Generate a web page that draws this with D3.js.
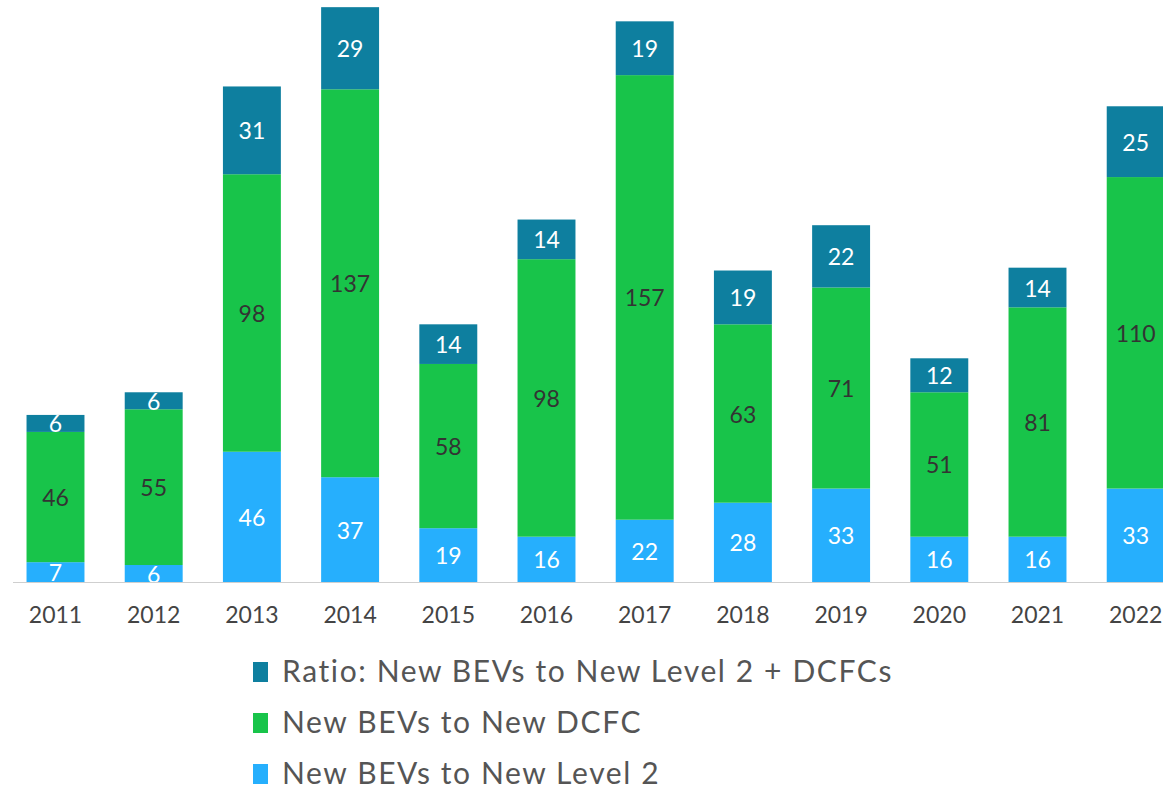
<!DOCTYPE html>
<html lang="en">
<head>
    <meta charset="UTF-8">
    <title>New BEVs per new charger</title>
    <script src="https://d3js.org/d3.v7.min.js"></script>
    <style>
        body { margin: 0; background: #fff; font-family: Lato, "Noto Sans", sans-serif; }
        svg { display: block; }
    </style>
</head>
<body>
<script>
    // Data
    const years = ["2011","2012","2013","2014","2015","2016","2017","2018","2019","2020","2021","2022"];
    const level2 = [7, 6, 46, 37, 19, 16, 22, 28, 33, 16, 16, 33];
    const dcfc = [46, 55, 98, 137, 58, 98, 157, 63, 71, 51, 81, 110];
    const ratio = [6, 6, 31, 29, 14, 14, 19, 19, 22, 12, 14, 25];

    const seriesNames = ["New BEVs to New Level 2", "New BEVs to New DCFC", "Ratio: New BEVs to New Level 2 + DCFCs"];
    const seriesColors = ["#26affd", "#18c44a", "#0e7f9f"];
    const labelColors = ["#ffffff", "#333333", "#ffffff"];

    const width = 1163, height = 792;
    const svg = d3.select("body").append("svg")
        .attr("width", width)
        .attr("height", height);

    const rows = years.map((y, i) => ({year: y, s0: level2[i], s1: dcfc[i], s2: ratio[i]}));
    const stacked = d3.stack().keys(["s0", "s1", "s2"])(rows);

    const x = d3.scaleBand().domain(years).range([6.4, 1184.8]).paddingInner(0.41).paddingOuter(0.205);
    const y = d3.scaleLinear().domain([0, 202]).range([582, 10]);

    // bars
    stacked.forEach((layer, k) => {
        const g = svg.append("g");
        g.selectAll("rect")
            .data(layer)
            .enter().append("rect")
            .attr("x", d => x(d.data.year))
            .attr("y", d => y(d[1]))
            .attr("width", x.bandwidth())
            .attr("height", d => y(d[0]) - y(d[1]))
            .attr("fill", seriesColors[k]);

        g.selectAll("text")
            .data(layer)
            .enter().append("text")
            .attr("x", d => x(d.data.year) + x.bandwidth() / 2)
            .attr("y", d => (y(d[0]) + y(d[1])) / 2)
            .attr("text-anchor", "middle")
            .attr("dominant-baseline", "central")
            .attr("fill", labelColors[k])
            .style("font-size", "23px")
            .text(d => d[1] - d[0]);
    });

    // baseline
    svg.append("line")
        .attr("x1", 13).attr("x2", width)
        .attr("y1", y(0) + 0.5).attr("y2", y(0) + 0.5)
        .attr("stroke", "#cfcfcf")
        .attr("stroke-width", 1);

    // x axis labels
    const xAxis = svg.append("g")
        .attr("transform", `translate(0,${y(0)})`)
        .call(d3.axisBottom(x).tickSize(0).tickPadding(25));
    xAxis.select(".domain").remove();
    xAxis.selectAll("text")
        .attr("fill", "#444")
        .style("font-family", "Lato, 'Noto Sans', sans-serif")
        .style("font-size", "23px");

    // legend (top entry = top of stack)
    const legendOrder = [2, 1, 0];
    const legend = svg.append("g").attr("transform", "translate(253,0)");
    legendOrder.forEach((k, i) => {
        const yy = 682 + i * 51;
        legend.append("rect")
            .attr("x", 0).attr("y", yy - 20)
            .attr("width", 15).attr("height", 20)
            .attr("fill", seriesColors[k]);
        legend.append("text")
            .attr("x", 29).attr("y", yy)
            .attr("fill", "#555")
            .style("font-size", "30px")
            .style("letter-spacing", "1.6px")
            .text(seriesNames[k]);
    });
</script>
</body>
</html>
